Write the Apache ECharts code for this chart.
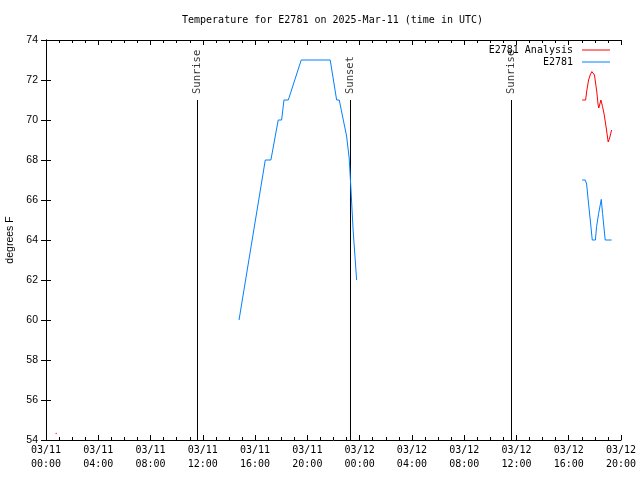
<!DOCTYPE html>
<html>
<head>
<meta charset="utf-8">
<script src="https://cdn.jsdelivr.net/npm/echarts@6/dist/echarts.min.js"></script>
<style>html,body{margin:0;padding:0;background:#fff}#c{width:640px;height:480px}</style>
</head>
<body>
<div id="c"></div>
<script>
// hours since 2025-03-11 00:00 UTC
const obsHours = [14.77, 16.78, 17.21, 17.77, 18.03, 18.21, 18.54, 19.53, 21.75, 22.24, 22.44, 22.75, 23.00, 23.20, 23.34, 23.50, 23.77,
  null,
  41.03, 41.26, 41.37, 41.52, 41.68, 41.80, 42.04, 42.13, 42.29, 42.49, 42.59, 42.79, 43.28];
const obsTemps = [60, 68, 68, 70, 70, 71, 71, 73, 73, 71, 71, 70, 69.2, 68.1, 66.5, 64.5, 62,
  null,
  67, 67, 66.8, 65.8, 64.8, 64, 64, 64.67, 65.33, 66.03, 65.33, 64, 64];
const anaHours = [41.03, 41.29, 41.39, 41.52, 41.64, 41.77, 41.89, 41.97, 42.15, 42.25, 42.30, 42.46, 42.59, 42.72, 42.87, 43.02, 43.13, 43.28];
const anaTemps = [71, 71, 71.5, 72.0, 72.25, 72.42, 72.4, 72.25, 71.4, 70.75, 70.6, 71.0, 70.67, 70.25, 69.6, 68.9, 69.1, 69.5];
const anaDotHours = [0.78];
const anaDotTemps = [54.33];
const eventHours = [11.593, 23.30, 35.62];
const eventNames = ['Sunrise', 'Sunset', 'Sunrise'];
const eventBottom = 54, eventTop = 71;
const xTicks = { min: 0, max: 44, step: 4 };
const yTicks = { min: 54, max: 74, step: 2 };
const seriesNames = ['E2781 Analysis', 'E2781'];

const mono = 'DejaVu Sans Mono';
const sans = 'Liberation Sans';
const pad = n => (n < 10 ? '0' : '') + n;
const pairs = (xs, ys) => xs.map((x, i) => x === null ? ['-', '-'] : [x, ys[i]]);

const series = [];
eventHours.forEach((h, i) => {
  series.push({
    type: 'line', data: [[h, eventBottom], [h, eventTop]], symbol: 'none', silent: true,
    lineStyle: { color: '#000', width: 1 }, z: 1
  });
  series.push({
    type: 'scatter', data: [{ value: [h, eventTop], name: eventNames[i] }], symbolSize: 0, silent: true,
    label: { show: true, formatter: '{b}', position: 'top', distance: 6, rotate: 90, align: 'left', verticalAlign: 'middle',
      fontFamily: mono, fontSize: 10.5, color: '#000' }
  });
});
series.push({
  name: seriesNames[0], type: 'line', data: pairs(anaHours, anaTemps), symbol: 'none',
  lineStyle: { color: '#ff0000', width: 1 }, itemStyle: { color: '#ff0000' }, z: 3
});
series.push({
  type: 'scatter', data: pairs(anaDotHours, anaDotTemps), symbolSize: 1.5, itemStyle: { color: '#ff0000' }, silent: true
});
series.push({
  name: seriesNames[1], type: 'line', data: pairs(obsHours, obsTemps), symbol: 'none', connectNulls: false,
  lineStyle: { color: '#0080ff', width: 1 }, itemStyle: { color: '#0080ff' }, z: 3
});

const tickCommon = { show: true, inside: true, length: 5, lineStyle: { color: '#000' } };
const axisLine = { show: true, lineStyle: { color: '#000', width: 1 } };

const chart = echarts.init(document.getElementById('c'), null, { renderer: 'canvas' });
chart.setOption({
  animation: false,
  backgroundColor: '#fff',
  title: {
    text: 'Temperature for E2781 on 2025-Mar-11 (time in UTC)',
    left: 182, top: 15, padding: 0,
    textStyle: { fontFamily: mono, fontSize: 10, fontWeight: 'normal', color: '#000' }
  },
  legend: {
    data: seriesNames, orient: 'vertical', right: 30, top: 44, align: 'right', padding: 0,
    icon: 'rect', itemWidth: 28, itemHeight: 1, itemGap: 0,
    textStyle: { fontFamily: mono, fontSize: 10, color: '#000', lineHeight: 12, padding: [0, 4, 0, 0] }
  },
  grid: { left: 46, right: 19, top: 40, bottom: 40, containLabel: false, outerBoundsMode: 'none' },
  xAxis: [{
    type: 'value', min: xTicks.min, max: xTicks.max, interval: xTicks.step, position: 'bottom',
    axisLine, axisTick: tickCommon,
    minorTick: { show: true, splitNumber: 4, length: 3, lineStyle: { color: '#000' } },
    splitLine: { show: false },
    axisLabel: {
      margin: 3, fontFamily: mono, fontSize: 10, color: '#000', lineHeight: 14.5,
      formatter: v => '03/' + pad(11 + Math.floor(v / 24)) + '\n' + pad(v % 24) + ':00'
    }
  }, {
    type: 'value', min: xTicks.min, max: xTicks.max, interval: xTicks.step, position: 'top',
    axisLine, axisTick: tickCommon,
    minorTick: { show: true, splitNumber: 4, length: 3, lineStyle: { color: '#000' } },
    splitLine: { show: false }, axisLabel: { show: false }
  }],
  yAxis: [{
    type: 'value', min: yTicks.min, max: yTicks.max, interval: yTicks.step, position: 'left',
    axisLine, axisTick: tickCommon, splitLine: { show: false },
    axisLabel: { margin: 8, fontFamily: sans, fontSize: 10.5, color: '#000' },
    name: 'degrees F', nameLocation: 'middle', nameGap: 29, nameRotate: 90,
    nameTextStyle: { fontFamily: sans, fontSize: 10.5, color: '#000' }
  }, {
    type: 'value', min: yTicks.min, max: yTicks.max, interval: yTicks.step, position: 'right',
    axisLine, axisTick: tickCommon, splitLine: { show: false }, axisLabel: { show: false }
  }],
  series
});
</script>
</body>
</html>
